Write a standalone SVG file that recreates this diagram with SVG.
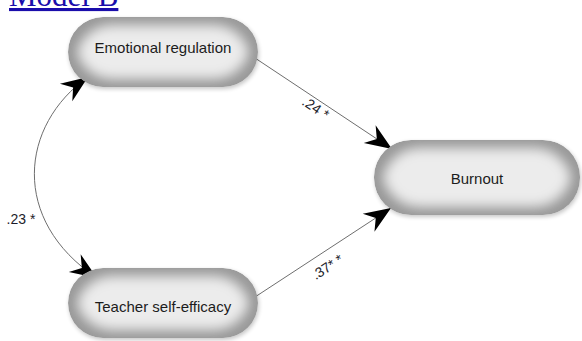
<svg xmlns="http://www.w3.org/2000/svg" width="582" height="341" viewBox="0 0 582 341">
<style>
.title{font-family:"Liberation Serif","Times New Roman",serif;font-size:31px;fill:#1a0dab;text-decoration:underline}
.node{fill:#a6a6a6;filter:url(#inner)}
.shadow{fill:#000;opacity:0.22;filter:url(#soft)}
.lbl{font-family:"Liberation Sans",Arial,sans-serif;font-size:15px;fill:#1c1c1c;text-anchor:middle}
.elbl{font-family:"Liberation Sans",Arial,sans-serif;font-size:14px;fill:#1c1c2a;text-anchor:middle}
.edge{fill:none;stroke:#6e6e6e;stroke-width:1}
</style>
<defs>
<filter id="inner" x="-10%" y="-20%" width="120%" height="140%">
<feMorphology in="SourceAlpha" operator="erode" radius="9" result="e"/>
<feGaussianBlur in="e" stdDeviation="6" result="b"/>
<feFlood flood-color="#ececec"/>
<feComposite in2="b" operator="in" result="light"/>
<feFlood flood-color="#9a9a9a"/>
<feComposite in2="SourceAlpha" operator="in" result="dark"/>
<feMerge result="m"><feMergeNode in="dark"/><feMergeNode in="light"/></feMerge>
<feComposite in="m" in2="SourceAlpha" operator="in"/>
</filter>
<filter id="soft" x="-10%" y="-20%" width="120%" height="140%">
<feGaussianBlur stdDeviation="2"/>
</filter>
<marker id="ah" markerUnits="userSpaceOnUse" markerWidth="30" markerHeight="30" viewBox="-26 -12 28 24" refX="0" refY="0" orient="auto-start-reverse">
<path d="M0,0 L-25,-10 L-17,0 L-25,10 Z" fill="#000"/>
</marker>
</defs>
<text class="title" x="9" y="6">Model B</text>
<g id="edges">
<path class="edge" d="M255,58 L392,149" marker-end="url(#ah)"/>
<path class="edge" d="M255,297 L391,208" marker-end="url(#ah)"/>
<path class="edge" d="M88,77 C20,125 10,220 97,278" marker-start="url(#ah)" marker-end="url(#ah)"/>
<text class="elbl" transform="translate(313,112) rotate(34)">.24 *</text>
<text class="elbl" transform="translate(330,271) rotate(-33)">.37* *</text>
<text class="elbl" x="21" y="224">.23 *</text>
</g>
<g id="emotional-regulation">
<rect class="shadow" x="69" y="19" width="190" height="70" rx="35"/>
<rect class="node" x="68" y="17" width="190" height="70" rx="35"/>
<text class="lbl" x="163" y="53">Emotional regulation</text>
</g>
<g id="burnout">
<rect class="shadow" x="375" y="142" width="206" height="75" rx="37"/>
<rect class="node" x="374" y="140" width="206" height="75" rx="37"/>
<text class="lbl" x="477" y="184">Burnout</text>
</g>
<g id="teacher-self-efficacy">
<rect class="shadow" x="69" y="270" width="190" height="70" rx="35"/>
<rect class="node" x="68" y="268" width="190" height="70" rx="35"/>
<text class="lbl" x="163" y="312">Teacher self-efficacy</text>
</g>
</svg>
